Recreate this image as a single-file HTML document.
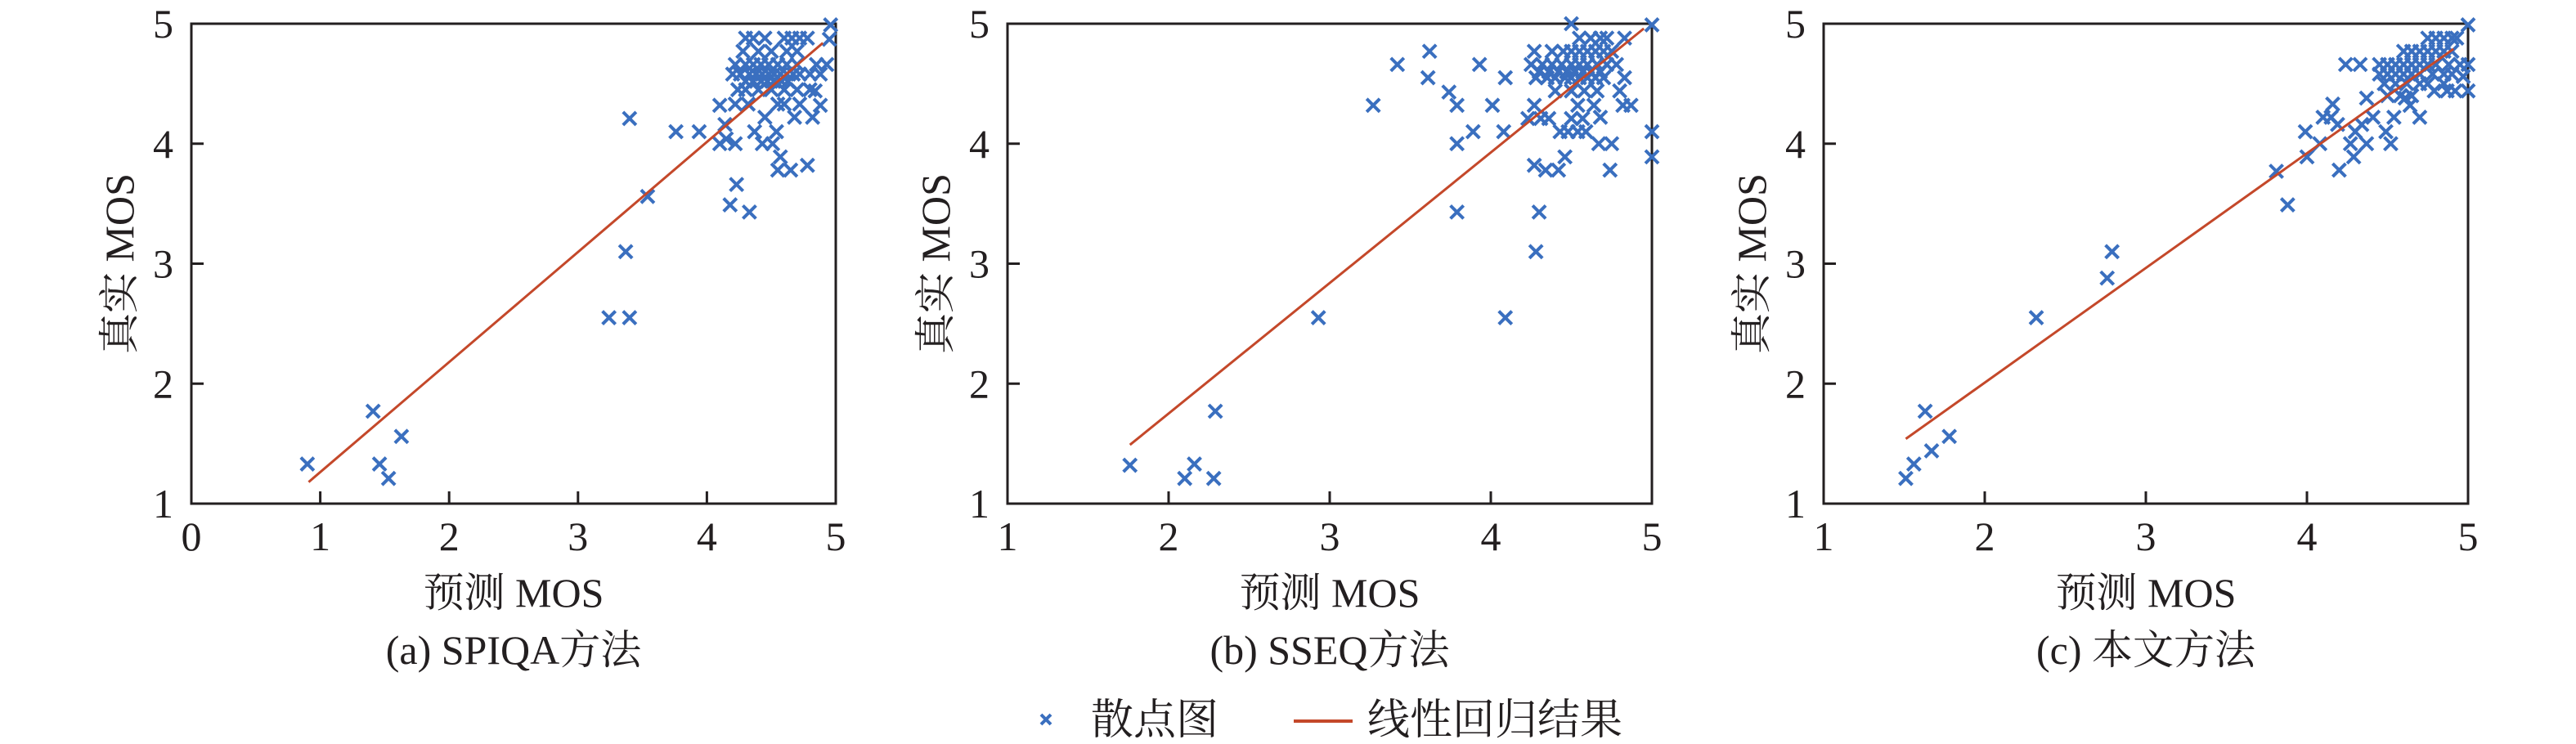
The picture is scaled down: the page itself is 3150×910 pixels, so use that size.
<!DOCTYPE html>
<html><head><meta charset="utf-8"><style>
html,body{margin:0;padding:0;background:#fff;width:3150px;height:910px;overflow:hidden}
svg{display:block}
text{font-family:"Liberation Serif","Noto Serif CJK SC",serif;fill:#231f20}
</style></head><body>
<svg id="chart" width="3150" height="910" viewBox="0 0 3150 910" xmlns="http://www.w3.org/2000/svg"></svg>
<script>
// ---- data ----
const panelCaptions = ["(a) SPIQA方法", "(b) SSEQ方法", "(c) 本文方法"];
const xDomains = [[0,5],[1,5],[1,5]];
const yDomain = [1,5];
const xTicksA = [0,1,2,3,4,5];
const xTicksBC = [1,2,3,4,5];
const yTicks = [1,2,3,4,5];
const fitA = [[0.91,1.18],[4.90,4.84]];
const fitB = [[1.76,1.49],[4.95,4.96]];
const fitC = [[1.51,1.54],[4.91,4.79]];
const pointsA = [[0.90,1.33],[1.41,1.77],[1.46,1.33],[1.53,1.21],[1.63,1.56],[3.24,2.55],[3.40,2.55],[3.37,3.10],[3.40,4.21],[3.54,3.56],[3.76,4.10],[3.94,4.10],[4.18,3.49],[4.23,3.66],[4.33,3.43],[4.10,4.32],[4.10,4.00],[4.15,4.04],[4.22,4.00],[4.14,4.16],[4.37,4.10],[4.43,4.00],[4.51,4.00],[4.54,4.10],[4.45,4.22],[4.57,3.89],[4.55,3.78],[4.65,3.78],[4.78,3.82],[4.68,4.22],[4.82,4.22],[4.88,4.32],[4.84,4.44],[4.96,4.99],[4.93,4.66],[4.95,4.87],
[4.30,4.88],[4.36,4.88],[4.45,4.88],[4.60,4.88],[4.66,4.88],[4.72,4.88],[4.78,4.88],
[4.28,4.77],[4.40,4.77],[4.50,4.77],[4.62,4.77],[4.70,4.77],
[4.22,4.66],[4.30,4.66],[4.36,4.66],[4.42,4.66],[4.48,4.66],[4.55,4.66],[4.62,4.66],[4.70,4.66],[4.85,4.66],
[4.20,4.58],[4.26,4.58],[4.33,4.58],[4.38,4.58],[4.43,4.58],[4.48,4.58],[4.52,4.58],[4.57,4.58],[4.62,4.58],[4.67,4.58],[4.72,4.58],[4.80,4.58],[4.88,4.58],
[4.30,4.52],[4.36,4.52],[4.42,4.52],[4.47,4.52],[4.52,4.52],[4.58,4.52],[4.63,4.52],
[4.24,4.45],[4.30,4.45],[4.40,4.45],[4.50,4.45],[4.60,4.45],[4.70,4.45],[4.80,4.45],
[4.22,4.33],[4.32,4.33],[4.55,4.33],[4.60,4.33],[4.72,4.33]];
const pointsB = [[1.76,1.32],[2.10,1.21],[2.16,1.33],[2.28,1.21],[2.29,1.77],[2.93,2.55],[4.09,2.55],[3.27,4.32],[3.42,4.66],[3.62,4.77],[3.61,4.55],[3.74,4.43],[3.79,4.32],[3.79,4.00],[3.79,3.43],[3.89,4.10],[3.93,4.66],[4.01,4.32],[4.08,4.10],[4.09,4.55],[4.28,3.10],[4.30,3.43],[4.27,3.82],[4.34,3.78],[4.42,3.78],[4.46,3.89],[4.23,4.21],[4.27,4.32],[4.31,4.21],[4.36,4.21],[4.43,4.10],[4.48,4.10],[4.54,4.10],[4.59,4.10],[4.67,4.00],[4.75,4.00],[4.74,3.78],[4.68,4.22],[4.57,4.21],[4.50,4.21],[4.64,4.32],[4.54,4.32],[4.80,4.44],[4.82,4.32],[4.87,4.32],[4.83,4.55],[4.78,4.66],[4.83,4.88],[5.00,4.99],[5.00,4.10],[5.00,3.89],[4.50,5.00],[4.27,4.77],
[4.38,4.77],[4.45,4.77],[4.50,4.77],[4.55,4.77],[4.60,4.77],[4.65,4.77],[4.70,4.77],[4.75,4.77],
[4.25,4.66],[4.32,4.66],[4.38,4.66],[4.44,4.66],[4.50,4.66],[4.55,4.66],[4.60,4.66],[4.66,4.66],[4.72,4.66],
[4.30,4.60],[4.36,4.60],[4.42,4.60],[4.47,4.60],[4.52,4.60],[4.57,4.60],[4.62,4.60],[4.68,4.60],
[4.28,4.55],[4.35,4.55],[4.40,4.55],[4.46,4.55],[4.50,4.55],[4.55,4.55],[4.60,4.55],[4.65,4.55],[4.70,4.55],
[4.40,4.44],[4.50,4.44],[4.58,4.44],[4.66,4.44],
[4.55,4.88],[4.62,4.88],[4.68,4.88],[4.72,4.88]];
const pointsC = [[1.51,1.21],[1.56,1.33],[1.67,1.44],[1.63,1.77],[1.78,1.56],[2.32,2.55],[2.76,2.88],[2.79,3.10],[3.81,3.77],[3.88,3.49],[4.00,3.89],[3.99,4.10],[4.08,4.00],[4.10,4.22],[4.15,4.22],[4.16,4.33],[4.19,4.16],[4.20,3.78],[4.24,4.66],[4.33,4.66],[4.27,4.00],[4.29,3.89],[4.30,4.10],[4.34,4.16],[4.37,4.00],[4.37,4.38],[4.41,4.22],[4.49,4.10],[4.52,4.00],[4.54,4.22],[4.61,4.38],[4.64,4.32],[4.70,4.22],[4.79,4.44],[4.87,4.44],[4.92,4.44],[5.00,4.99],[5.00,4.66],[5.00,4.44],[4.97,4.56],
[4.75,4.88],[4.80,4.88],[4.85,4.88],[4.90,4.88],[4.93,4.88],
[4.60,4.77],[4.65,4.77],[4.70,4.77],[4.75,4.77],[4.80,4.77],[4.85,4.77],[4.90,4.77],
[4.45,4.66],[4.50,4.66],[4.55,4.66],[4.60,4.66],[4.65,4.66],[4.70,4.66],[4.75,4.66],[4.80,4.66],[4.88,4.66],[4.95,4.66],
[4.45,4.58],[4.50,4.58],[4.55,4.58],[4.60,4.58],[4.65,4.58],[4.70,4.58],[4.78,4.58],[4.85,4.58],[4.90,4.58],
[4.48,4.50],[4.55,4.50],[4.62,4.50],[4.70,4.50],[4.75,4.50],[4.85,4.50],
[4.50,4.40],[4.58,4.40],[4.65,4.40]];

const panelPoints = [pointsA, pointsB, pointsC];
const panelFits = [fitA, fitB, fitC];
const panelXTicks = [xTicksA, xTicksBC, xTicksBC];

// ---- layout ----
const NS = "http://www.w3.org/2000/svg";
const svg = document.getElementById("chart");
const boxes = [[234,1022],[1232,2020],[2230,3018]];
const TOP = 29, BOT = 616;
const BLUE = "#3a6fbf", RED = "#c4482a", INK = "#231f20";

function mk(tag, attrs, parent){
  const e = document.createElementNS(NS, tag);
  for (const k in attrs) e.setAttribute(k, attrs[k]);
  (parent||svg).appendChild(e);
  return e;
}
function cross(g, cx, cy, s){
  return mk("path", {d:`M${cx-s},${cy-s}L${cx+s},${cy+s}M${cx-s},${cy+s}L${cx+s},${cy-s}`, stroke:BLUE, "stroke-width":4, fill:"none"}, g);
}

for (let i=0;i<3;i++){
  const [L,R] = boxes[i];
  const [x0,x1] = xDomains[i];
  const sx = v => L + (v-x0)/(x1-x0)*(R-L);
  const sy = v => BOT - (v-yDomain[0])/(yDomain[1]-yDomain[0])*(BOT-TOP);
  const g = mk("g", {});
  
  

  const frame = mk("rect", {x:L, y:TOP, width:R-L, height:BOT-TOP, fill:"none", stroke:INK, "stroke-width":3}, g);
  
  

  panelXTicks[i].forEach(t=>{
    const x = sx(t);
    if (t!==x0 && t!==x1) {
      const tk = mk("line", {x1:x, x2:x, y1:BOT, y2:BOT-15, stroke:INK, "stroke-width":3}, g);
      
      
    }
    const lb = mk("text", {x:x, y:673, "text-anchor":"middle", "font-size":50}, g);
    lb.textContent = t;
    
    
  });
  yTicks.forEach(t=>{
    const y = sy(t);
    if (t!==yDomain[0] && t!==yDomain[1]) {
      const tk = mk("line", {x1:L, x2:L+15, y1:y, y2:y, stroke:INK, "stroke-width":3}, g);
      
      
    }
    const lb = mk("text", {x:L-22, y:y+17, "text-anchor":"end", "font-size":50}, g);
    lb.textContent = t;
    
    
  });

  const pg = mk("g", {}, g);
  
  
  panelPoints[i].forEach(p=>{
    const c = cross(pg, sx(p[0]), sy(p[1]), 8);
    
    
  });

  const f = panelFits[i];
  const fl = mk("line", {x1:sx(f[0][0]), y1:sy(f[0][1]), x2:sx(f[1][0]), y2:sy(f[1][1]), stroke:RED, "stroke-width":3}, g);
  
  

  const cx = (L+R)/2;
  const xt = mk("text", {x:cx, y:742, "text-anchor":"middle", "font-size":50}, g);
  xt.textContent = "预测 MOS";
  
  

  const ty = (TOP+BOT)/2, tx = L-88;
  const yt = mk("text", {x:tx, y:ty, "text-anchor":"middle", "dominant-baseline":"central", "font-size":50, transform:`rotate(-90 ${tx} ${ty})`}, g);
  yt.textContent = "真实 MOS";
  
  

  const cp = mk("text", {x:cx, y:812, "text-anchor":"middle", "font-size":50}, g);
  cp.textContent = panelCaptions[i];
  
  
}

// legend
const lg = mk("g", {});


const lm = cross(lg, 1279, 880, 6);


const lt1 = mk("text", {x:1334, y:898, "font-size":52}, lg);
lt1.textContent = "散点图";


const ll = mk("line", {x1:1582, x2:1654, y1:882, y2:882, stroke:RED, "stroke-width":4}, lg);


const lt2 = mk("text", {x:1672, y:898, "font-size":52}, lg);
lt2.textContent = "线性回归结果";


</script>
</body></html>
